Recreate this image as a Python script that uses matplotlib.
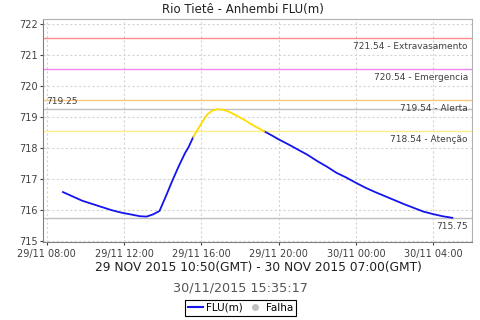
import numpy as np
import pandas as pd
import matplotlib
matplotlib.use("Agg")
import matplotlib.pyplot as plt
import matplotlib.dates as mdates
from matplotlib.lines import Line2D
from matplotlib.transforms import blended_transform_factory

# water level readings (local time)
times = [
    "2015-11-29 08:50", "2015-11-29 09:20", "2015-11-29 09:50", "2015-11-29 10:20",
    "2015-11-29 10:50", "2015-11-29 11:20", "2015-11-29 11:50", "2015-11-29 12:20",
    "2015-11-29 12:50", "2015-11-29 13:10", "2015-11-29 13:30", "2015-11-29 13:50",
    "2015-11-29 14:10", "2015-11-29 14:30", "2015-11-29 14:50", "2015-11-29 15:10",
    "2015-11-29 15:20", "2015-11-29 15:35", "2015-11-29 15:50", "2015-11-29 16:05",
    "2015-11-29 16:20", "2015-11-29 16:35", "2015-11-29 16:50", "2015-11-29 17:10",
    "2015-11-29 17:30", "2015-11-29 17:50", "2015-11-29 18:10", "2015-11-29 18:30",
    "2015-11-29 18:50", "2015-11-29 19:15", "2015-11-29 19:40", "2015-11-29 20:00",
    "2015-11-29 20:30", "2015-11-29 21:00", "2015-11-29 21:30", "2015-11-29 22:00",
    "2015-11-29 22:30", "2015-11-29 23:00", "2015-11-29 23:30", "2015-11-30 00:00",
    "2015-11-30 00:30", "2015-11-30 01:00", "2015-11-30 01:30", "2015-11-30 02:00",
    "2015-11-30 02:30", "2015-11-30 03:00", "2015-11-30 03:30", "2015-11-30 04:00",
    "2015-11-30 04:30", "2015-11-30 05:00",
]
levels = [
    716.58, 716.44, 716.30, 716.20, 716.10, 716.00, 715.92, 715.86,
    715.80, 715.79, 715.86, 715.97, 716.45, 716.95, 717.42, 717.85,
    718.02, 718.36, 718.62, 718.88, 719.10, 719.21, 719.25, 719.23,
    719.15, 719.04, 718.93, 718.80, 718.68, 718.54, 718.40, 718.28,
    718.12, 717.95, 717.78, 717.58, 717.40, 717.20, 717.05, 716.88,
    716.72, 716.58, 716.45, 716.32, 716.19, 716.07, 715.95, 715.87,
    715.80, 715.75,
]

# threshold lines
limit_values = [721.54, 720.54, 719.54, 718.54]
limit_names = ["Extravasamento", "Emergencia", "Alerta", "Atenção"]
limit_colors = ["#ff8a8a", "#ee88ee", "#ffc880", "#ffee88"]
max_level = 719.25
min_level = 715.75

t = pd.to_datetime(times)
v = np.array(levels)

fig = plt.figure(figsize=(4.8, 3.2), dpi=100)
ax = fig.add_axes([43 / 480, 1 - 242 / 320, (472 - 43) / 480, (242 - 19) / 320])

for val, name, col in zip(limit_values, limit_names, limit_colors):
    ax.axhline(val, color=col, lw=1, zorder=2)
ax.axhline(max_level, color="#c0c0c0", lw=1, zorder=2)
ax.axhline(min_level, color="#c0c0c0", lw=1, zorder=2)

# colour the part above the first threshold in yellow
above = np.where(v >= limit_values[-1])[0]
i0, i1 = above[0] - 1, above[-1]
ax.plot(t[:i0 + 1], v[:i0 + 1], color="#1414ee", lw=1.3, zorder=3)
ax.plot(t[i1:], v[i1:], color="#1414ee", lw=1.3, zorder=3)
ax.plot(t[i0:i1 + 1], v[i0:i1 + 1], color="#ffdd00", lw=1.3, zorder=3)

trans = blended_transform_factory(ax.transAxes, ax.transData)
for val, name in zip(limit_values, limit_names):
    ax.annotate(f"{val:.2f} - {name}", xy=(1, val), xycoords=trans,
                xytext=(-3, -3), textcoords="offset points",
                ha="right", va="top", fontsize=6.5, color="#404040")
ax.annotate(f"{min_level:.2f}", xy=(1, min_level), xycoords=trans,
            xytext=(-3, -3), textcoords="offset points",
            ha="right", va="top", fontsize=6.5, color="#404040")
ax.annotate(f"{max_level:.2f}", xy=(0, max_level), xycoords=trans,
            xytext=(2, 2.5), textcoords="offset points",
            ha="left", va="bottom", fontsize=6.5, color="#404040")

ax.set_xlim(pd.Timestamp("2015-11-29 07:48"), pd.Timestamp("2015-11-30 06:01"))
ax.set_ylim(714.97, 722.16)
ax.set_yticks(range(715, 723))
ax.xaxis.set_major_locator(mdates.HourLocator(byhour=range(0, 24, 4)))
ax.xaxis.set_major_formatter(mdates.DateFormatter("%d/%m %H:%M"))
ax.tick_params(labelsize=7, colors="#404040", length=2, pad=2)
ax.tick_params(axis="x", pad=3)
ax.grid(True, color="#d4d4d4", ls=(0, (2, 2)), lw=0.8)
for side in ["top", "right"]:
    ax.spines[side].set_color("#b0b0b0")
for side in ["left", "bottom"]:
    ax.spines[side].set_color("#808080")

fig.text(0.507, 1 - 9 / 320, "Rio Tietê - Anhembi FLU(m)", ha="center", va="center",
         fontsize=8.5, color="#202020")
fig.text(258 / 480, 1 - 268 / 320, "29 NOV 2015 10:50(GMT) - 30 NOV 2015 07:00(GMT)",
         ha="center", va="center", fontsize=8.8, color="#202020")
fig.text(0.5, 1 - 288 / 320, "30/11/2015 15:35:17", ha="center", va="center",
         fontsize=9.2, color="#555555")

handles = [Line2D([], [], color="#1414ee", lw=1.5),
           Line2D([], [], color="#c0c0c0", marker="o", ls="none", markersize=4)]
leg = fig.legend(handles, ["FLU(m)", "Falha"], loc="center", bbox_to_anchor=(0.501, 1 - 308 / 320),
                 ncol=2, fontsize=7.5, frameon=True, fancybox=False, edgecolor="black",
                 framealpha=1, handlelength=1.4, handletextpad=0.3, columnspacing=0.5,
                 borderpad=0.3, borderaxespad=0)
leg.get_frame().set_linewidth(0.8)

fig.savefig("out.png", dpi=100)
